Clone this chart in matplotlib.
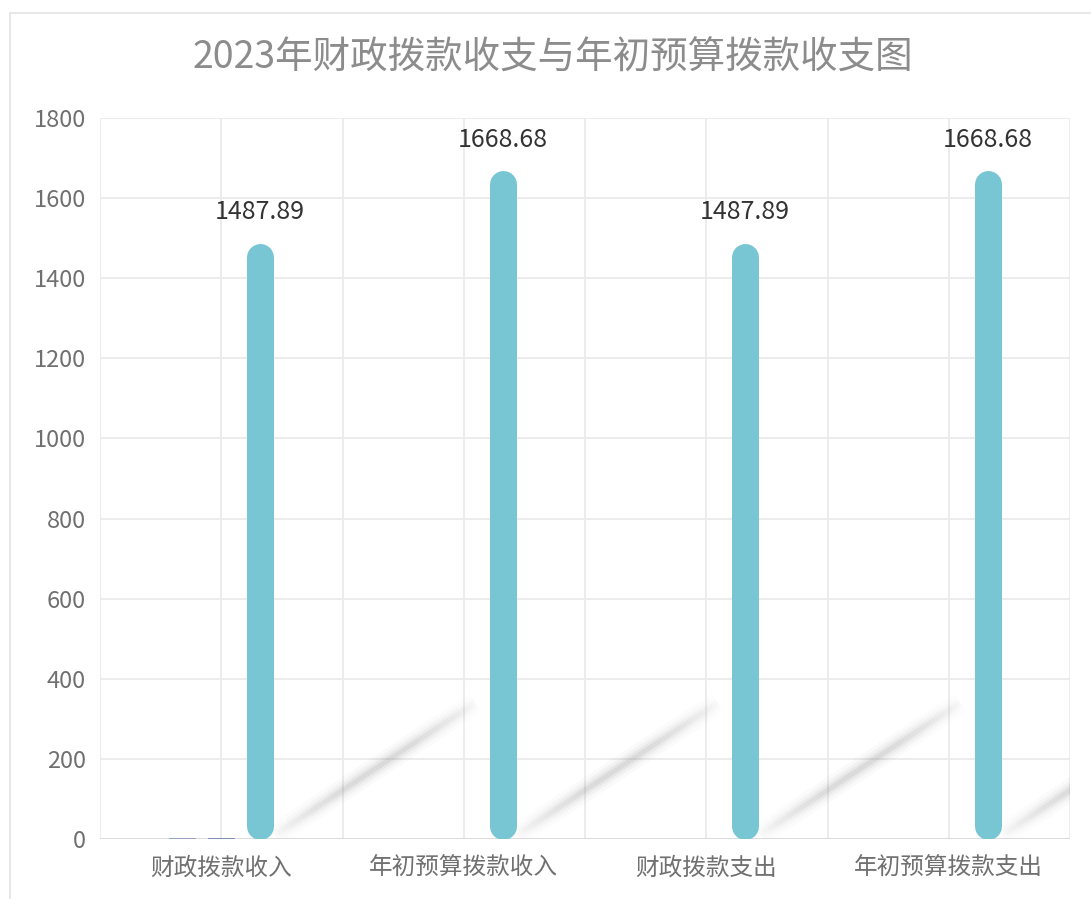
import numpy as np
import matplotlib
matplotlib.use("Agg")
import matplotlib.pyplot as plt
from matplotlib.patches import Rectangle
from matplotlib.collections import LineCollection

plt.rcParams['font.family'] = ['Noto Sans CJK SC', 'DejaVu Sans']

title = "2023年财政拨款收支与年初预算拨款收支图"
categories = ["财政拨款收入", "年初预算拨款收入", "财政拨款支出", "年初预算拨款支出"]
series_a = [1.5, 0, 0, 0]
series_b = [1.5, 0, 0, 0]
series_c = [1487.89, 1668.68, 1487.89, 1668.68]
y_ticks = [0, 200, 400, 600, 800, 1000, 1200, 1400, 1600, 1800]

W, H, DPI = 1091, 899, 100
fig = plt.figure(figsize=(W / DPI, H / DPI), dpi=DPI)
fig.patch.set_facecolor("white")

# outer frame
fig.patches.append(Rectangle((10 / W, -0.1), 1.2, 1 - 13 / H + 0.1, transform=fig.transFigure,
                             fill=False, edgecolor="#e3e3e3", linewidth=1.2, zorder=0))

ax_l, ax_r, ax_t, ax_b = 100, 1070, 118, 839
ax = fig.add_axes([ax_l / W, 1 - ax_b / H, (ax_r - ax_l) / W, (ax_b - ax_t) / H])
ax.set_xlim(-0.5, 3.5)
ax.set_ylim(0, 1800)

for s in ax.spines.values():
    s.set_visible(False)
ax.axhline(0, color="#dcdcdc", lw=1.5, zorder=1)

ax.set_yticks(y_ticks)
ax.set_yticklabels([str(v) for v in y_ticks], fontsize=17, color="#707070")
x = np.arange(len(categories))
ax.set_xticks(x)
ax.set_xticklabels(categories, fontsize=17, color="#707070")
ax.tick_params(length=0)
ax.tick_params(axis="x", pad=13)
ax.tick_params(axis="y", pad=10)

for v in y_ticks:
    ax.axhline(v, color="#ebebeb", lw=1.3, zorder=0)
for xv in np.arange(-0.5, 3.51, 0.5):
    ax.axvline(xv, color="#ebebeb", lw=1.3, zorder=0)

# data per pixel
px_x = 4.0 / (ax_r - ax_l)
px_y = 1800.0 / (ax_b - ax_t)
offset = 0.16
bar_px = 27
bar_w = bar_px * px_x

# small series
for vals, dx, col in [(series_a, -offset, "#9aa3c0"), (series_b, 0.0, "#7f8fb5")]:
    for i, v in enumerate(vals):
        if v > 0:
            ax.add_patch(Rectangle((i + dx - bar_w / 2, 0), bar_w, v, facecolor=col,
                                   edgecolor="none", zorder=3))

# shadows
def shadow(x0):
    xs = np.linspace(x0 + 0.05, x0 + 0.9, 70)
    ys = np.linspace(6, 345, 70)
    pts = np.array([xs, ys]).T.reshape(-1, 1, 2)
    segs = np.concatenate([pts[:-1], pts[1:]], axis=1)
    t = np.linspace(0, 1, len(segs))
    env = np.sin(np.pi * t) ** 0.7
    for lw, a in [(16, 0.035), (11, 0.055), (7, 0.08), (3.5, 0.11)]:
        cols = np.zeros((len(segs), 4))
        cols[:, :3] = 0.45
        cols[:, 3] = a * env
        lc = LineCollection(segs, colors=cols, linewidths=lw, capstyle="butt", zorder=2)
        ax.add_collection(lc)

for i, v in enumerate(series_c):
    shadow(i + offset)

# main rounded bars (round caps fully inside the value range)
r_y = (bar_px / 2) * px_y
lw_pt = bar_px * 72 / DPI
for i, v in enumerate(series_c):
    xc = i + offset
    ax.plot([xc, xc], [r_y, v - r_y], color="#78c6d3", lw=lw_pt,
            solid_capstyle="round", zorder=4)
    ax.text(xc, v + 44, f"{v:.2f}", ha="center", va="bottom", fontsize=18, color="#333333", zorder=5)

fig.text(553 / W, 1 - 58 / H, title, ha="center", va="center", fontsize=27, color="#8c8c8c")

fig.savefig("out.png", dpi=DPI, facecolor="white")
